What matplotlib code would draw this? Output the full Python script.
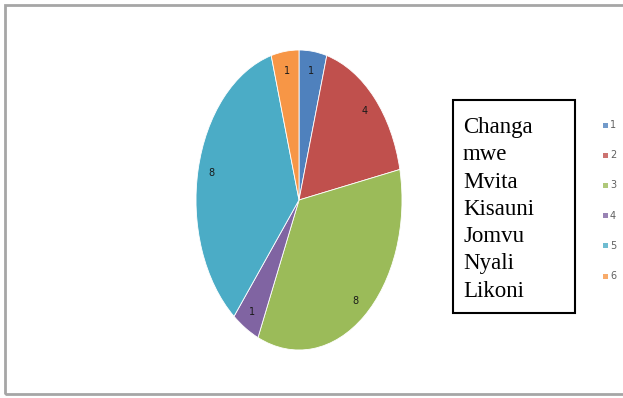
import matplotlib
matplotlib.use("Agg")
import matplotlib.pyplot as plt
from matplotlib.patches import Rectangle

# Data
values = [1, 4, 8, 1, 8, 1]
series_labels = ["1", "2", "3", "4", "5", "6"]
colors = ["#4F81BD", "#C0504D", "#9BBB59", "#8064A2", "#4BACC6", "#F79646"]
box_lines = ["Changa", "mwe", "Mvita", "Kisauni", "Jomvu", "Nyali", "Likoni"]

W, H = 623, 398
fig = plt.figure(figsize=(W / 100, H / 100), dpi=100)
fig.patch.set_facecolor("white")

def fx(px):
    return px / W

def fy(py):
    return 1 - py / H

# outer frame
fig.add_artist(Rectangle((fx(5), fy(394)), fx(640) - fx(5), fy(5) - fy(394),
                         transform=fig.transFigure, fill=False,
                         edgecolor="#a6a6a6", linewidth=2))

# pie axes (stretched ellipse)
cx, cy, rx, ry = 299, 200, 103, 150
ax = fig.add_axes([fx(cx - rx), fy(cy + ry), 2 * rx / W, 2 * ry / H])
total = sum(values)
wedges, texts, autotexts = ax.pie(
    values, colors=colors, startangle=90, counterclock=False,
    autopct=lambda p: f"{round(p * total / 100)}", pctdistance=0.87,
    textprops=dict(fontsize=7, color="#1a1a1a"),
    wedgeprops=dict(linewidth=0.6, edgecolor="white"))
ax.set_aspect("auto")
ax.set_xlim(-1, 1)
ax.set_ylim(-1, 1)
ax.axis("off")

# text box
fig.add_artist(Rectangle((fx(453), fy(313)), fx(575) - fx(453), fy(100) - fy(313),
                         transform=fig.transFigure, fill=False,
                         edgecolor="black", linewidth=1.5))
for i, line in enumerate(box_lines):
    fig.text(fx(463), fy(133 + i * 27.3), line, family="Liberation Serif",
             fontsize=16.5, color="black", ha="left", va="baseline")

# small legend (cut at right edge)
for i, (lab, col) in enumerate(zip(series_labels, colors)):
    y = 125 + i * 30.2
    fig.add_artist(Rectangle((fx(603), fy(y + 2.5)), fx(5), 5 / H,
                             transform=fig.transFigure, facecolor=col,
                             edgecolor="none", alpha=0.8))
    fig.text(fx(610), fy(y), lab, fontsize=7, color="#606060",
             ha="left", va="center")

fig.savefig("out.png", dpi=100, facecolor="white")
